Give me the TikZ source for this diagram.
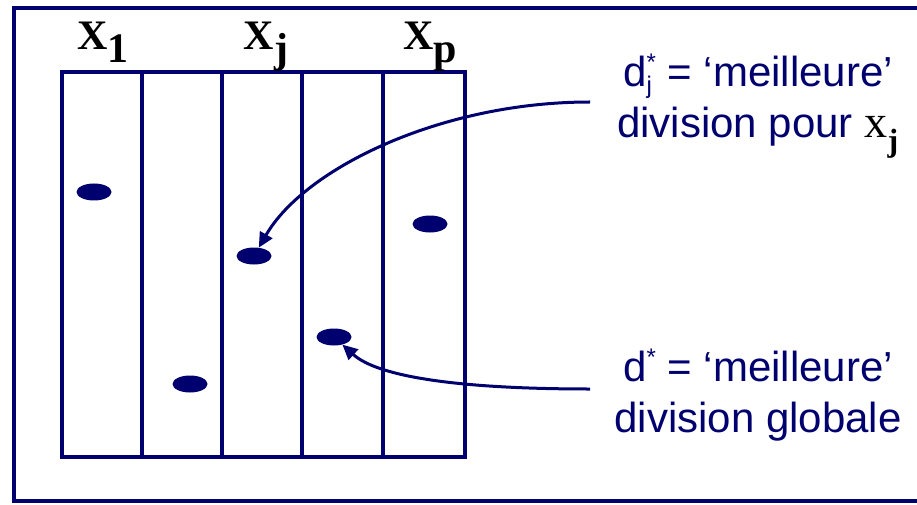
\documentclass[tikz,border=0pt]{standalone}
\usepackage{fontspec}
\setmainfont{Liberation Sans}
\newfontfamily\timesfont{Liberation Serif}
\usepackage{xcolor}
\usetikzlibrary{arrows.meta,shapes.geometric}
\definecolor{navy}{RGB}{0,0,110}

\begin{document}
\begin{tikzpicture}[x=1pt,y=1pt,
    spot/.style={ellipse, fill=navy, minimum width=35pt, minimum height=17pt, inner sep=0pt},
    varlbl/.style={anchor=base, text=black, font=\timesfont\bfseries\fontsize{42}{42}\selectfont},
    note/.style={anchor=base, align=center, text=navy, font=\fontsize{42}{51}\selectfont},
    link/.style={navy, line width=3pt, -{Triangle[length=15pt,width=14pt]}}]
\useasboundingbox (0,0) rectangle (917,504);
\clip (0,0) rectangle (917,504);
\draw[navy, line width=4pt] (14,3) rectangle (935,496);
\draw[navy, line width=4.5pt] (62,47) rectangle (465,432);
\foreach \cx in {142,222,302,383}
  \draw[navy, line width=4.5pt] (\cx,47) -- (\cx,432);
\node[varlbl] (x1) at (103,454) {X\raisebox{-13pt}{1}};
\node[varlbl] (xj) at (266,454) {X\raisebox{-13pt}{j}};
\node[varlbl] (xp) at (430,454) {X\raisebox{-13pt}{p}};
\node[spot] (d1) at (94,312) {};
\node[spot] (d2) at (254,248) {};
\node[spot] (d3) at (430,280) {};
\node[spot] (d4) at (334,167) {};
\node[spot] (d5) at (190,120) {};
\node[note] (best1) at (758,366)
  {d\rlap{\raisebox{-7pt}{\fontsize{24}{24}\selectfont j}}\raisebox{16pt}{\fontsize{24}{24}\selectfont *} = ‘meilleure’\\division pour {\timesfont\fontsize{46}{51}\selectfont\color{black}x\textsubscript{\bfseries j}}};
\node[note] (best2) at (758,72)
  {d\raisebox{16pt}{\fontsize{24}{24}\selectfont *} = ‘meilleure’\\division globale};
\coordinate (from1) at (590,402);
\coordinate (from2) at (590,115);
\draw[link] (from1) .. controls +(-150,0) and +(50,87) .. (d2);
\draw[link] (from2) .. controls +(-130,0) and +(44,-40) .. (d4);
\end{tikzpicture}
\end{document}
